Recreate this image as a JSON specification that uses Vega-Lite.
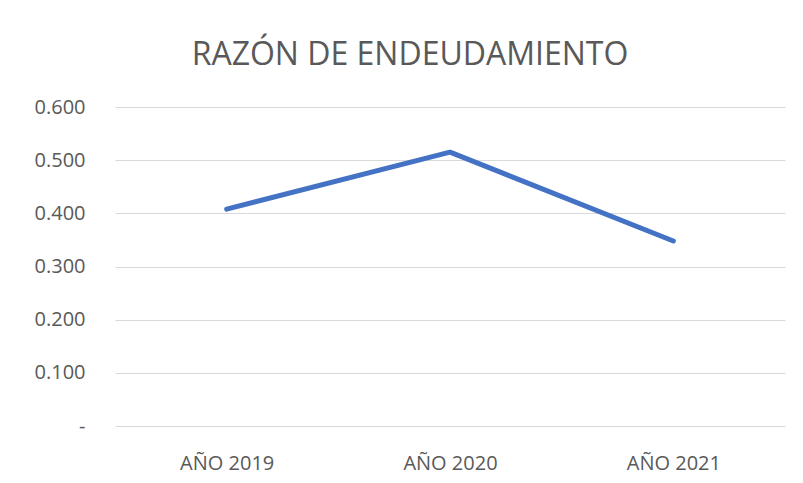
{
  "$schema": "https://vega.github.io/schema/vega-lite/v6.json",
  "width": 670,
  "height": 319,
  "autosize": {"type": "none"},
  "padding": {"left": 115, "top": 107, "right": 18, "bottom": 57},
  "background": "white",
  "config": {"view": {"stroke": null}, "font": "Open Sans"},
  "title": {
    "text": "RAZÓN DE ENDEUDAMIENTO",
    "font": "Open Sans",
    "fontSize": 32,
    "fontWeight": "normal",
    "color": "#595959",
    "anchor": "middle",
    "baseline": "alphabetic",
    "offset": 0,
    "dx": -40
  },
  "data": {
    "values": [
      {"year": "AÑO 2019", "value": 0.408},
      {"year": "AÑO 2020", "value": 0.515},
      {"year": "AÑO 2021", "value": 0.348}
    ]
  },
  "mark": {"type": "line", "color": "#4472C4", "strokeWidth": 5, "strokeCap": "round", "strokeJoin": "round"},
  "encoding": {
    "x": {
      "field": "year",
      "type": "ordinal",
      "scale": {"paddingInner": 0, "paddingOuter": 0},
      "axis": {
        "title": null,
        "labelAngle": 0,
        "labelFont": "Open Sans",
        "labelFontSize": 20,
        "labelColor": "#595959",
        "labelPadding": 27,
        "ticks": false,
        "domain": false
      }
    },
    "y": {
      "field": "value",
      "type": "quantitative",
      "scale": {"domain": [0, 0.6], "nice": false},
      "axis": {
        "title": null,
        "values": [0, 0.1, 0.2, 0.3, 0.4, 0.5, 0.6],
        "labelExpr": "datum.value == 0 ? '-\u00a0\u00a0' : format(datum.value, '.3f')",
        "labelFont": "Open Sans",
        "labelFontSize": 20,
        "labelColor": "#595959",
        "labelPadding": 30,
        "ticks": false,
        "domain": false,
        "grid": true,
        "gridColor": "#d9d9d9",
        "gridWidth": 1
      }
    }
  }
}
